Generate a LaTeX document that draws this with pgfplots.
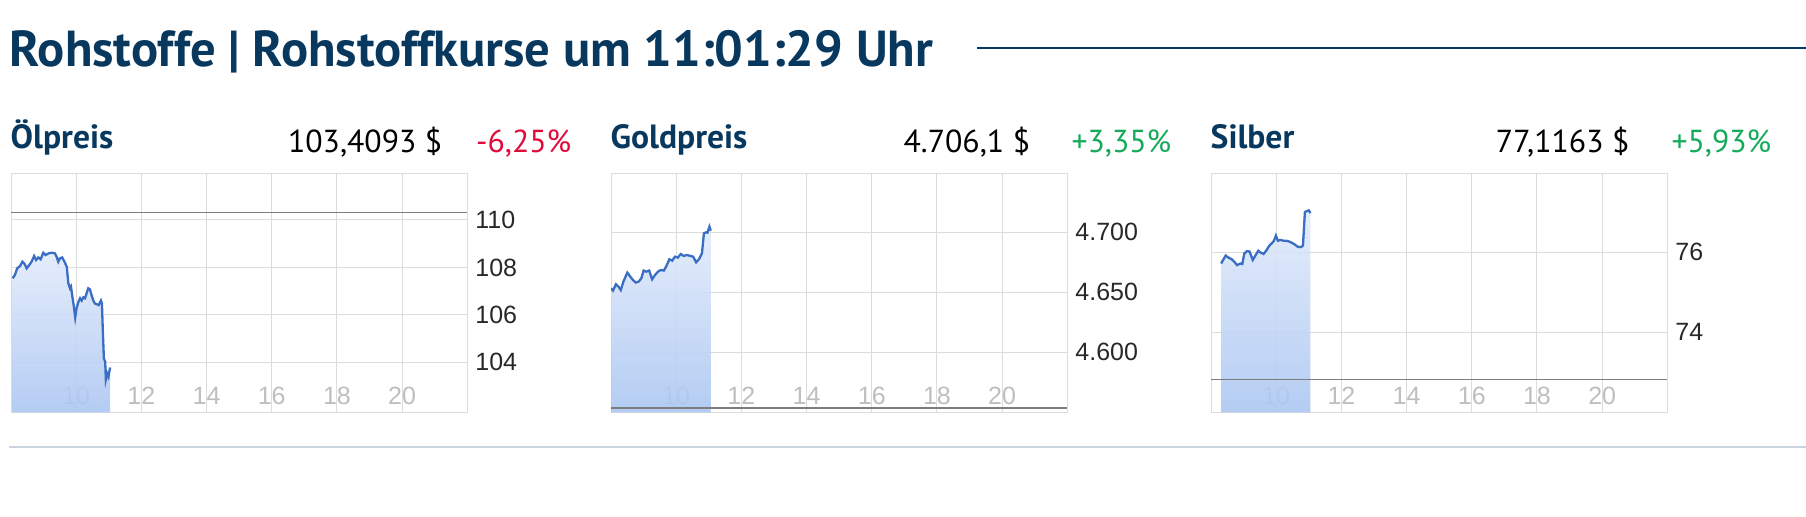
\documentclass[border=0pt]{standalone}
\usepackage{pgfplots}
\pgfplotsset{compat=1.18}
\usepackage{pgfplotstable}
\usepackage{fontspec}
\setmainfont{PT Sans}
\newfontfamily\tickfont{Liberation Sans}

\definecolor{navy}{RGB}{8,56,94}
\definecolor{downred}{RGB}{226,8,58}
\definecolor{upgreen}{RGB}{20,170,90}
\definecolor{gridgray}{RGB}{220,220,220}
\definecolor{refgray}{RGB}{125,125,125}
\definecolor{linblue}{RGB}{58,110,196}
\definecolor{filltop}{RGB}{226,235,250}
\definecolor{fillbot}{RGB}{172,199,242}
\definecolor{xlab}{RGB}{190,190,190}
\definecolor{ylab}{RGB}{40,40,40}
\definecolor{sepline}{RGB}{201,212,222}

\newcommand\titlefont{\bfseries\fontsize{25.3bp}{30bp}\selectfont}
\newcommand\headfont{\bfseries\fontsize{16.8bp}{20bp}\selectfont}
\newcommand\valfont{\fontsize{15.9bp}{19bp}\selectfont}
\newcommand\tickfs{\tickfont\fontsize{12.5bp}{15bp}\selectfont}

% intraday prices (hour, value)
\pgfplotstableread{
t v
8.05 107.54
8.12 107.68
8.19 107.96
8.28 108.06
8.35 108.24
8.42 108.14
8.48 107.96
8.56 108.10
8.63 108.24
8.71 108.48
8.77 108.31
8.84 108.42
8.91 108.34
8.99 108.62
9.06 108.52
9.15 108.59
9.25 108.62
9.35 108.59
9.40 108.45
9.45 108.24
9.50 108.38
9.57 108.42
9.64 108.24
9.71 108.03
9.76 107.33
9.81 107.12
9.84 107.19
9.89 106.70
9.93 106.34
9.97 105.89
10.01 106.27
10.07 106.55
10.12 106.70
10.17 106.60
10.22 106.74
10.27 106.70
10.32 106.91
10.37 107.12
10.42 107.08
10.47 106.84
10.52 106.62
10.57 106.48
10.63 106.45
10.69 106.41
10.76 106.60
10.79 106.48
10.82 105.22
10.85 104.16
10.89 104.02
10.91 103.28
10.95 103.53
10.99 103.39
11.04 103.78
}\oil

\pgfplotstableread{
t v
8.00 4653.3
8.06 4651.4
8.15 4656.7
8.23 4654.7
8.30 4651.9
8.38 4658.9
8.50 4666.4
8.59 4663.1
8.67 4660.3
8.76 4658.1
8.85 4658.9
8.93 4661.7
9.00 4668.1
9.08 4667.2
9.17 4668.1
9.26 4660.8
9.35 4664.4
9.44 4667.2
9.53 4668.6
9.62 4668.1
9.69 4671.4
9.79 4677.5
9.88 4676.4
9.96 4679.7
10.05 4678.9
10.14 4681.9
10.23 4680.3
10.33 4681.1
10.43 4680.3
10.52 4679.7
10.61 4675.0
10.70 4677.5
10.79 4682.5
10.85 4699.2
10.92 4700.0
10.96 4699.7
11.02 4704.7
11.06 4701.4
}\gold

\pgfplotstableread{
t v
8.31 75.72
8.37 75.81
8.45 75.92
8.53 75.87
8.63 75.83
8.72 75.76
8.80 75.68
8.90 75.72
8.96 75.71
9.02 75.97
9.10 76.03
9.18 76.02
9.28 75.81
9.36 75.92
9.45 76.04
9.51 76.00
9.61 75.96
9.69 76.04
9.79 76.17
9.87 76.23
9.93 76.29
9.99 76.42
10.05 76.29
10.13 76.31
10.23 76.29
10.31 76.29
10.40 76.27
10.50 76.23
10.58 76.19
10.66 76.14
10.76 76.13
10.82 76.17
10.88 77.01
10.94 77.03
11.00 77.05
11.05 76.98
}\silver

\pgfplotsset{
  panel/.style={
    anchor=south west, scale only axis,
    width=228.15bp, height=119.15bp,
    xmin=8, xmax=22,
    xtick={10,12,...,20}, xticklabels={10,12,14,16,18,20},
    axis line style={gridgray, line width=0.5bp},
    grid=major, major grid style={gridgray, line width=0.5bp},
    major tick length=0pt,
    yticklabel pos=right,
    xticklabel style={font=\tickfs, text=xlab, anchor=base, inner sep=0pt, yshift=3.65bp},
    yticklabel style={font=\tickfs, text=ylab, anchor=west, inner sep=0pt, xshift=3.85bp},
  },
  area/.style={draw=none, top color=filltop, bottom color=fillbot, fill opacity=0.9},
  price/.style={linblue, line width=1.15bp},
  prevclose/.style={refgray, line width=0.75bp},
}

\begin{document}
\begin{tikzpicture}[x=0.5bp,y=0.5bp]
\useasboundingbox (0,0) rectangle (1806,517);

\node[anchor=base west, inner sep=0, text=navy, font=\titlefont] at (9.4,450.3) {Rohstoffe | Rohstoffkurse um 11:01:29 Uhr};
\draw[navy, line width=1bp] (977,468.6) -- (1806,468.6);

% headers
\node[anchor=base west, inner sep=0, text=navy, font=\headfont] at (10.3,368.7) {Ölpreis};
\node[anchor=base east, inner sep=0, font=\valfont] at (442.7,364.3) {103,4093 \$};
\node[anchor=base east, inner sep=0, text=downred, font=\valfont] at (571.7,364.3) {-6,25\%};

\node[anchor=base west, inner sep=0, text=navy, font=\headfont] at (610.3,368.7) {Goldpreis};
\node[anchor=base east, inner sep=0, font=\valfont] at (1030.5,364.3) {4.706,1 \$};
\node[anchor=base east, inner sep=0, text=upgreen, font=\valfont] at (1171.7,364.3) {+3,35\%};

\node[anchor=base west, inner sep=0, text=navy, font=\headfont] at (1210.3,368.7) {Silber};
\node[anchor=base east, inner sep=0, font=\valfont] at (1629.8,364.3) {77,1163 \$};
\node[anchor=base east, inner sep=0, text=upgreen, font=\valfont] at (1771.7,364.3) {+5,93\%};

\begin{axis}[panel, at={(5.5bp,52.35bp)},
  ymin=101.89, ymax=111.94, ytick={104,106,108,110}, yticklabels={104,106,108,110}]
  \addplot[area] table {\oil} -- (11.04,101.89) -- (8.05,101.89) -- cycle;
  \addplot[price] table {\oil};
  \addplot[prevclose] coordinates {(8,110.31) (22,110.31)};
\end{axis}

\begin{axis}[panel, at={(305.5bp,52.35bp)},
  ymin=4550, ymax=4748.6, ytick={4600,4650,4700}, yticklabels={4.600,4.650,4.700}]
  \addplot[area] table {\gold} -- (11.06,4550) -- (8.00,4550) -- cycle;
  \addplot[price] table {\gold};
  \addplot[prevclose] coordinates {(8,4553.5) (22,4553.5)};
\end{axis}

\begin{axis}[panel, at={(605.5bp,52.35bp)},
  ymin=72, ymax=77.96, ytick={74,76}, yticklabels={74,76}]
  \addplot[area] table {\silver} -- (11.05,72) -- (8.31,72) -- cycle;
  \addplot[price] table {\silver};
  \addplot[prevclose] coordinates {(8,72.82) (22,72.82)};
\end{axis}

\draw[sepline, line width=1bp] (9,70.3) -- (1806,70.3);
\end{tikzpicture}
\end{document}
